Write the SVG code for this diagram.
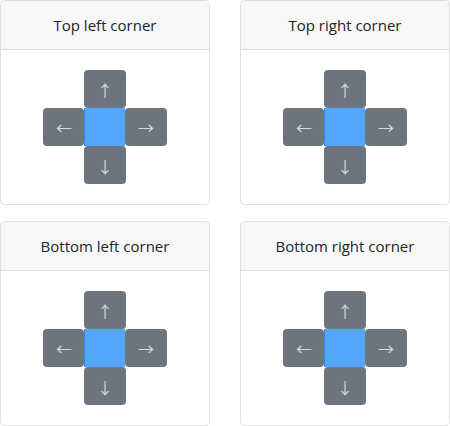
<svg xmlns="http://www.w3.org/2000/svg" width="450" height="426" viewBox="0 0 450 426">
<defs>
<style>
.card{fill:#fff;stroke:#dfdfdf;stroke-width:1}
.hdr{fill:#f7f7f7}
.line{stroke:#dfdfdf;stroke-width:1}
.title{font-family:"Open Sans","Noto Sans",sans-serif;font-size:15px;fill:#212529;text-anchor:middle}
.btn{fill:#6c757d}
.mid{fill:#55a6ff}
.edge{fill:#2b86ea}
.arr{font-family:"Noto Sans CJK SC",sans-serif;font-size:16px;fill:#d6d8da;text-anchor:middle}
</style>
<g id="pad">
<rect class="btn" x="84" y="70" width="42" height="38" rx="4"/>
<rect class="btn" x="43" y="108" width="41" height="38" rx="4"/>
<rect class="btn" x="125" y="108" width="42" height="38" rx="4"/>
<rect class="btn" x="84" y="146" width="42" height="38" rx="4"/>
<rect class="mid" x="84" y="108" width="41" height="38"/>
<rect class="edge" x="84" y="108" width="1" height="38"/>
<text class="arr" x="105" y="97">↑</text>
<text class="arr" x="64" y="134">←</text>
<text class="arr" x="146" y="134">→</text>
<text class="arr" x="105" y="173">↓</text>
</g>
</defs>
<g id="card-top-left">
<rect class="card" x="0.5" y="0.5" width="209" height="204" rx="4"/>
<path class="hdr" d="M1 49V4.5A4 4 0 0 1 4.5 1H205.5A4 4 0 0 1 209 4.5V49Z"/>
<line class="line" x1="1" y1="49.5" x2="209" y2="49.5"/>
<text class="title" x="105" y="31">Top left corner</text>
<use href="#pad"/>
</g>
<g id="card-top-right">
<rect class="card" x="240.5" y="0.5" width="209" height="204" rx="4"/>
<path class="hdr" d="M241 49V4.5A4 4 0 0 1 244.5 1H445.5A4 4 0 0 1 449 4.5V49Z"/>
<line class="line" x1="241" y1="49.5" x2="449" y2="49.5"/>
<text class="title" x="345" y="31">Top right corner</text>
<use href="#pad" x="240"/>
</g>
<g id="card-bottom-left">
<rect class="card" x="0.5" y="221.5" width="209" height="204" rx="4"/>
<path class="hdr" d="M1 270V225.5A4 4 0 0 1 4.5 222H205.5A4 4 0 0 1 209 225.5V270Z"/>
<line class="line" x1="1" y1="270.5" x2="209" y2="270.5"/>
<text class="title" x="105" y="252">Bottom left corner</text>
<use href="#pad" y="221"/>
</g>
<g id="card-bottom-right">
<rect class="card" x="240.5" y="221.5" width="209" height="204" rx="4"/>
<path class="hdr" d="M241 270V225.5A4 4 0 0 1 244.5 222H445.5A4 4 0 0 1 449 225.5V270Z"/>
<line class="line" x1="241" y1="270.5" x2="449" y2="270.5"/>
<text class="title" x="345" y="252">Bottom right corner</text>
<use href="#pad" x="240" y="221"/>
</g>
<g id="connectors"/>
</svg>
